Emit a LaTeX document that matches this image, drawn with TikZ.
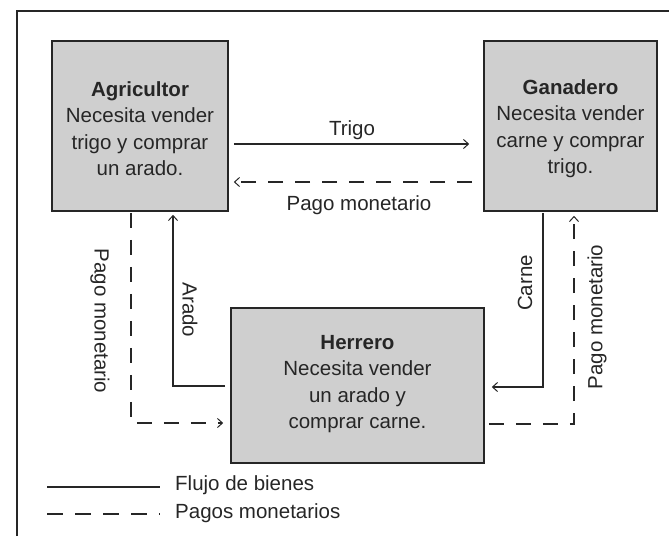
\documentclass[tikz,border=0pt]{standalone}
\usepackage{fontspec}
\setmainfont{Liberation Sans}
\usetikzlibrary{arrows.meta}
\tikzset{
  x=1pt, y=-1pt,
  actor/.style={draw=black!85, line width=1.6pt, fill=gray!38, inner sep=0pt},
  boxtext/.style={align=center, font=\fontsize{20.5}{26.5}\selectfont, text=black!85},
  lbl/.style={font=\fontsize{20.5}{24}\selectfont, text=black!85, inner sep=0pt},
  goods/.style={line width=1.1pt, draw=black!85, -{Straight Barb[length=5pt,width=9pt,line width=1pt]}},
  money/.style={line width=1.1pt, draw=black!85, dash pattern=on 15pt off 12pt, -{Straight Barb[length=5pt,width=9pt,line width=1pt]}},
  goodsline/.style={line width=1.1pt, draw=black!85},
  moneyline/.style={line width=1.1pt, draw=black!85, dash pattern=on 16pt off 12pt},
}
\begin{document}
\begin{tikzpicture}
\useasboundingbox (0,0) rectangle (669,536);
% frame
\coordinate (f1) at (17,536);
\coordinate (f2) at (17,11);
\coordinate (f3) at (669,11);
\draw[line width=1.8pt, black!85] (f1) -- (f2) -- (f3);

% actors
\node[actor, minimum width=176pt, minimum height=170pt] (agri) at (140,126) {};
\node[boxtext] (agriT) at (140,128.5) {\textbf{Agricultor}\\Necesita vender\\trigo y comprar\\un arado.};
\node[actor, minimum width=173pt, minimum height=170pt] (gana) at (570.5,126) {};
\node[boxtext] (ganaT) at (570.5,128.5) {\textbf{Ganadero}\\Necesita vender\\carne y comprar\\trigo.};
\node[actor, minimum width=253pt, minimum height=155pt] (herr) at (357.5,385.5) {};
\node[boxtext] (herrT) at (357.5,384) {\textbf{Herrero}\\Necesita vender\\un arado y\\comprar carne.};

% connectors
\draw[goods] ([xshift=5pt,yshift=-18pt]agri.east) -- ([xshift=-14pt,yshift=-18pt]gana.west);
\draw[money] ([xshift=-11pt,yshift=-56pt]gana.west) -- ([xshift=5pt,yshift=-56pt]agri.east);
\draw[money] ([xshift=-9pt,yshift=-1pt]agri.south) |- ([xshift=-7pt,yshift=-37.5pt]herr.west);
\draw[goods] ([xshift=-5pt,yshift=-0.5pt]herr.west) -| ([xshift=33pt,yshift=-3pt]agri.south);
\draw[goods] ([xshift=-27.5pt,yshift=-1pt]gana.south) |- ([xshift=7pt,yshift=-1.5pt]herr.east);
\draw[money] ([xshift=4pt,yshift=-38.5pt]herr.east) -| ([xshift=3.5pt,yshift=-4pt]gana.south);

% labels
\node[lbl] (lTrigo) at (352,130) {Trigo};
\node[lbl] (lPago1) at (359,205) {Pago monetario};
\node[lbl, rotate=-90] (lPago2) at (100,321) {Pago monetario};
\node[lbl, rotate=-90] (lArado) at (190,310) {Arado};
\node[lbl, rotate=90] (lCarne) at (525,283) {Carne};
\node[lbl, rotate=90] (lPago3) at (597,317) {Pago monetario};

% legend
\coordinate (g1a) at (47,487);
\coordinate (g1b) at (160,487);
\coordinate (g2a) at (47,514);
\coordinate (g2b) at (160,514);
\draw[goodsline] (g1a) -- (g1b);
\draw[moneyline] (g2a) -- (g2b);
\node[lbl, anchor=west] (leg1) at (175,485) {Flujo de bienes};
\node[lbl, anchor=west] (leg2) at (175,513) {Pagos monetarios};
\end{tikzpicture}
\end{document}
